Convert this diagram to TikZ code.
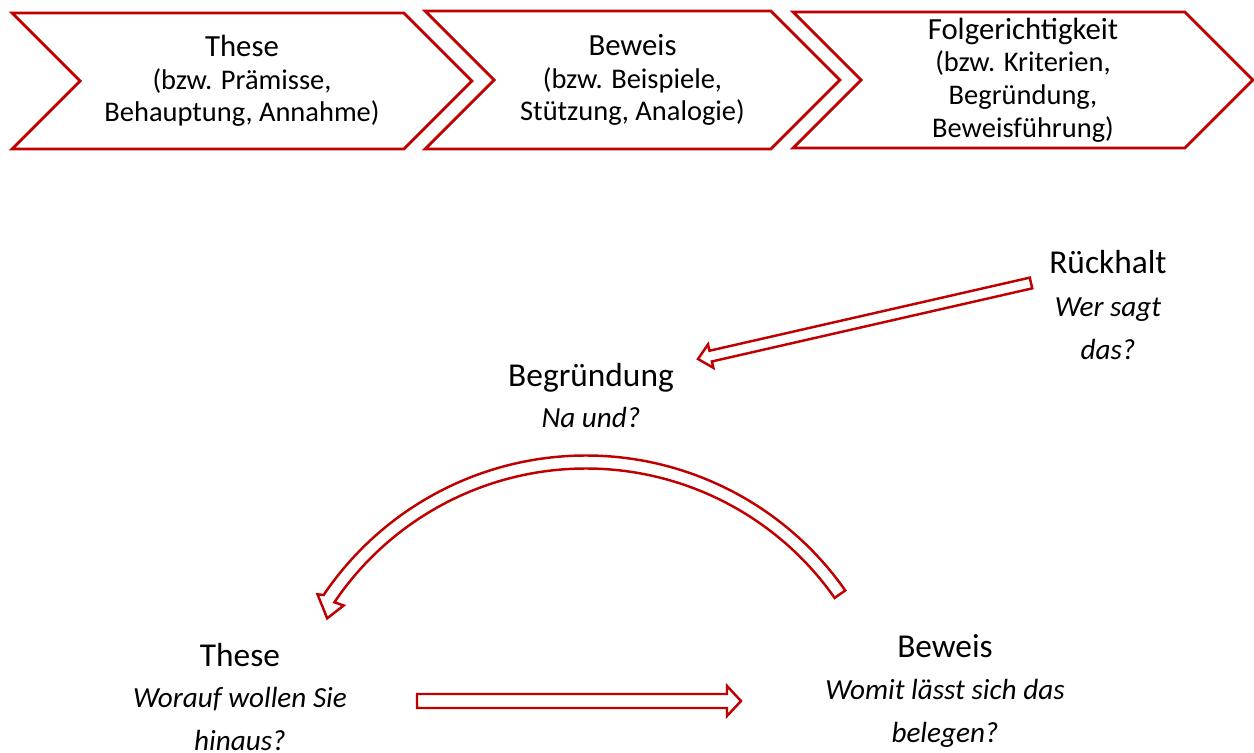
\documentclass[tikz,border=0pt]{standalone}
\usepackage{fontspec}
\setmainfont{Carlito}
\usetikzlibrary{shapes.symbols,calc}
\definecolor{argred}{RGB}{192,0,0}

% hollow block arrow: tail, tip, shaft half width, head half width, head length
\newcommand\blockarrow[5]{%
  \coordinate (#1-base) at ($(#2)!#5!(#1)$);
  \draw[blockarrow] ($(#1)!#3!90:(#2)$) -- ($(#1-base)!#3!90:(#2)$) -- ($(#1-base)!#4!90:(#2)$) -- (#2)
    -- ($(#1-base)!#4!-90:(#2)$) -- ($(#1-base)!#3!-90:(#2)$) -- ($(#1)!#3!-90:(#2)$) -- cycle;
}

\begin{document}
\begin{tikzpicture}[x=0.02cm,y=-0.02cm,
  chevron/.style={draw=argred,line width=1.6pt,signal,signal from=west,signal to=east,signal pointer angle=90,align=center,inner sep=0pt,font=\fontsize{16.2}{18.6}\selectfont},
  title/.style={anchor=base,font=\fontsize{19}{22}\selectfont},
  question/.style={anchor=base,align=center,font=\fontsize{16.6}{24}\selectfont\itshape},
  blockarrow/.style={draw=argred,line width=1.4pt,line join=miter,fill=white}]
  \useasboundingbox (0,0) rectangle (1254,753);

  % process chevrons
  \node[chevron,minimum width=9.2cm,minimum height=2.72cm] (ch-these) at (242,81) {{\fontsize{17.5}{18.6}\selectfont These}\\(bzw. Prämisse,\\Behauptung, Annahme)};
  \node[chevron,minimum width=8.3cm,minimum height=2.76cm] (ch-beweis) at (632.5,80) {{\fontsize{17.5}{18.6}\selectfont Beweis}\\(bzw. Beispiele,\\Stützung, Analogie)};
  \node[chevron,minimum width=9.2cm,minimum height=2.72cm] (ch-folge) at (1023,80) {{\fontsize{17.5}{18.6}\selectfont Folgerichtigkeit}\\(bzw. Kriterien,\\Begründung,\\Beweisführung)};

  % argument elements (question nodes sit on the baseline of their last line)
  \node[title] (rueck) at (1108,274) {Rückhalt};
  \node[question] (rueck-q) at (1108,359) {Wer sagt\\das?};
  \node[title] (begr) at (591,386) {Begründung};
  \node[question] (begr-q) at (591,427) {Na und?};
  \node[title] (these) at (240,666) {These};
  \node[question] (these-q) at (240,750) {Worauf wollen Sie\\hinaus?};
  \node[title] (beweis) at (945,657) {Beweis};
  \node[question] (beweis-q) at (945,742) {Womit lässt sich das\\belegen?};

  % arrows
  \coordinate (rueck-tail) at (1031,283);
  \coordinate (begr-tip) at (698,359);
  \blockarrow{rueck-tail}{begr-tip}{0.11cm}{0.24cm}{0.26cm}
  \coordinate (these-tail) at (417,701);
  \coordinate (beweis-tip) at (741,701);
  \blockarrow{these-tail}{beweis-tip}{0.14cm}{0.30cm}{0.28cm}
  \coordinate (loop-c) at (586,772);
  \draw[blockarrow] ([shift={(-35:316.5)}]loop-c) arc[start angle=-35,end angle=-146,radius=316.5]
    -- ([shift={(-146.5:322)}]loop-c) -- ([shift={(-149.3:301)}]loop-c) -- ([shift={(-145.5:294)}]loop-c)
    -- ([shift={(-146:303.5)}]loop-c) arc[start angle=-146,end angle=-35,radius=303.5] -- cycle;
\end{tikzpicture}
\end{document}
